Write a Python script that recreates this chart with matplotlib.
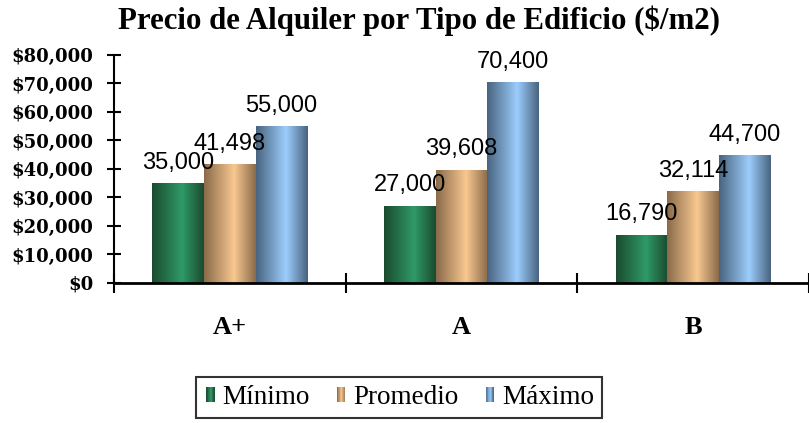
import numpy as np
import matplotlib
matplotlib.use("Agg")
import matplotlib.pyplot as plt
from matplotlib.colors import LinearSegmentedColormap
from matplotlib.patches import Rectangle
from matplotlib.legend_handler import HandlerBase

categories = ["A+", "A", "B"]
series_names = ["Mínimo", "Promedio", "Máximo"]
minimo = [35000, 27000, 16790]
promedio = [41498, 39608, 32114]
maximo = [55000, 70400, 44700]
value_labels = [["35,000", "27,000", "16,790"],
                ["41,498", "39,608", "32,114"],
                ["55,000", "70,400", "44,700"]]
yticks = [0, 10000, 20000, 30000, 40000, 50000, 60000, 70000, 80000]
ytick_labels = ["$0", "$10,000", "$20,000", "$30,000", "$40,000",
                "$50,000", "$60,000", "$70,000", "$80,000"]
title = "Precio de Alquiler por Tipo de Edificio ($/m2)"

# gradient color stops (dark edge, light centre)
grad_colors = [("#1a4a2f", "#2f9a66"), ("#8a6a4a", "#f8c890"), ("#48637f", "#9ccdfc")]

def make_cmap(dark, light):
    return LinearSegmentedColormap.from_list(
        "g", [(0.0, dark), (0.58, light), (1.0, dark)])

cmaps = [make_cmap(d, l) for d, l in grad_colors]
grad = np.linspace(0, 1, 256).reshape(1, -1)

serif = ["Liberation Serif", "DejaVu Serif"]
sans = ["Liberation Sans", "DejaVu Sans"]

fig = plt.figure(figsize=(8.09, 4.23), dpi=100)
ax = fig.add_axes([0.141, 0.331, 0.859, 0.539])

x = np.arange(len(categories))
width = 0.223
data = [minimo, promedio, maximo]
for i, vals in enumerate(data):
    bars = ax.bar(x + (i - 1) * width, vals, width, color="none", edgecolor="none")
    for j, b in enumerate(bars):
        x0, y0 = b.get_x(), b.get_y()
        w, h = b.get_width(), b.get_height()
        ax.imshow(grad, cmap=cmaps[i], aspect="auto",
                  extent=[x0, x0 + w, y0, y0 + h], zorder=2,
                  interpolation="bilinear")
        ax.annotate(value_labels[i][j], (x0 + w / 2, y0 + h),
                    xytext=(0, 7), textcoords="offset points",
                    ha="center", va="bottom", fontsize=17, family=sans)

ax.set_xlim(-0.5, len(categories) - 0.5)
ax.set_ylim(0, 80000)

ax.set_yticks(yticks)
ax.set_yticklabels(ytick_labels, family=["DejaVu Serif"], fontweight="bold", fontsize=13)
ax.tick_params(axis="y", direction="inout", length=10, width=1.5, pad=10)

ax.set_xticks(np.arange(len(categories) + 1) - 0.5)
ax.set_xticklabels([])
ax.tick_params(axis="x", which="major", direction="inout", length=15, width=1.5)
ax.set_xticks(x, minor=True)
ax.set_xticklabels(categories, minor=True, family=serif, fontweight="bold", fontsize=19)
ax.tick_params(axis="x", which="minor", length=0, pad=24)

for s in ["top", "right"]:
    ax.spines[s].set_visible(False)
ax.spines["left"].set_linewidth(1.5)
ax.spines["bottom"].set_linewidth(2)
ax.spines["bottom"].set_zorder(5)

fig.text(0.518, 0.950, title, ha="center", va="center", family=serif,
         fontweight="bold", fontsize=22.2)


class GradHandler(HandlerBase):
    def __init__(self, cmap):
        super().__init__()
        self.cmap = cmap

    def create_artists(self, legend, orig_handle, xdescent, ydescent,
                       width, height, fontsize, trans):
        arts = []
        n = 12
        hw = 6.0
        hh = 11.0
        x0 = -xdescent + width - hw
        y0 = -ydescent + (height - hh) / 2
        for k in range(n):
            r = Rectangle((x0 + k * hw / n, y0), hw / n + 0.05, hh,
                          facecolor=self.cmap((k + 0.5) / n), edgecolor="none",
                          transform=trans)
            arts.append(r)
        return arts


handles = [Rectangle((0, 0), 1, 1) for _ in series_names]
leg = fig.legend(handles, series_names, loc="center", ncol=3,
                 bbox_to_anchor=(0.493, 0.061),
                 handler_map={h: GradHandler(c) for h, c in zip(handles, cmaps)},
                 prop={"family": serif, "size": 19.5}, frameon=True, fancybox=False,
                 handlelength=0.4, handletextpad=0.3, columnspacing=0.9,
                 borderpad=0.3, borderaxespad=0)
leg.get_frame().set_edgecolor("black")
leg.get_frame().set_linewidth(1.5)

fig.savefig("out.png", dpi=100)
